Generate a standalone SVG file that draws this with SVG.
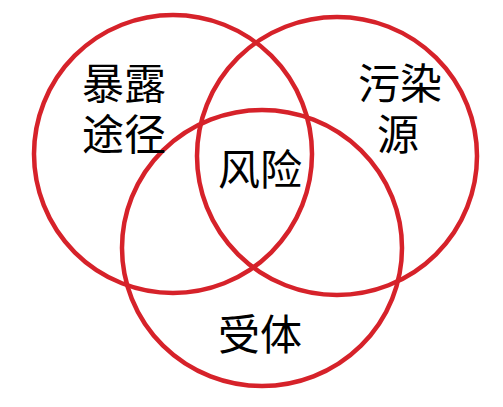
<svg xmlns="http://www.w3.org/2000/svg" width="503" height="407" viewBox="0 0 503 407">
<style>
.c{fill:none;stroke:#d6222a;stroke-width:4.5}
.t{font-family:"Noto Sans CJK SC","Noto Sans CJK JP",sans-serif;font-size:42px;fill:#000;text-anchor:middle}
</style>
<rect width="503" height="407" fill="#ffffff"/>
<g id="circles">
<g id="exposure"><ellipse class="c" cx="173" cy="154" rx="139" ry="139"/></g>
<g id="source"><ellipse class="c" cx="337" cy="156" rx="140" ry="139"/></g>
<g id="receptor"><ellipse class="c" cx="262" cy="248" rx="140" ry="138"/></g>
</g>
<g id="labels">
<text class="t" id="label-exposure"><tspan x="124" y="99">暴露</tspan><tspan x="124" y="150">途径</tspan></text>
<text class="t" id="label-source"><tspan x="400" y="99">污染</tspan><tspan x="398" y="150">源</tspan></text>
<text class="t" id="label-risk" x="260" y="185">风险</text>
<text class="t" id="label-receptor" x="260" y="350">受体</text>
</g>
</svg>
